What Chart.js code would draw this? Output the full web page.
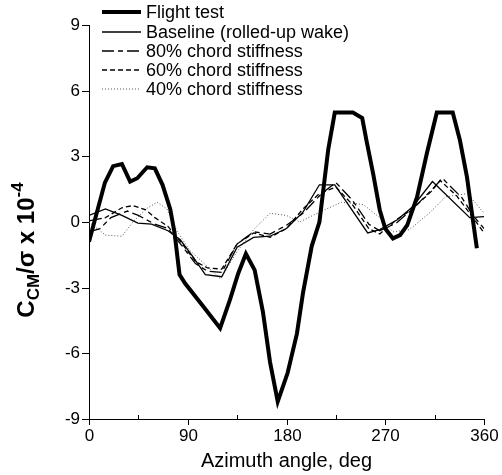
<!DOCTYPE html>
<html>
<head>
<meta charset="utf-8">
<script src="https://cdn.jsdelivr.net/npm/chart.js@4.4.0/dist/chart.umd.min.js"></script>
<style>
html,body{margin:0;padding:0;background:#fff}
canvas{display:block}
</style>
</head>
<body>
<canvas id="myChart" width="502" height="475"></canvas>
<script>
// values: azimuth (deg) / C_CM/sigma x 10^-4
const flightAng=[0,14.5,22,30,37.5,44,53,60,67,74,78,82.5,87.5,104,119.5,128.5,136,143,151,158.5,165,172,181,189.5,195,203,210,218,224,240.5,249,253,259,265,270,277,283.5,290,299,308,317,331.5,338,344.5,349,353.5];
const flightVal=[-0.9,1.8,2.55,2.65,1.85,2.0,2.5,2.45,1.7,0.6,-0.5,-2.4,-2.8,-3.85,-4.85,-3.55,-2.35,-1.45,-2.2,-4.1,-6.4,-8.2,-6.9,-5.1,-3.25,-1.1,0,3.3,5.0,5.0,4.75,3.7,2.2,0.55,-0.3,-0.75,-0.6,-0.15,1.15,3.15,5.0,5.0,3.75,2.05,0.4,-1.2];

const baseAng=[0,15,30,44.5,57,72,83,95,106,121,135,150,165,180,195,210,224,254,265,281,295,313,347,360];
const baseVal=[0.3,0.6,0.3,-0.05,-0.1,-0.4,-0.8,-1.6,-2.4,-2.5,-1.15,-0.7,-0.65,-0.3,0.45,1.7,1.7,-0.5,-0.35,0.1,0.7,1.85,0.2,0.25];

const c80Ang=[0,10,20,35,45,60,72,85,97,108,121,135,150,165,180,195,212,225,240,255,265,280,295,313,322,340,350,360];
const c80Val=[-0.45,-0.3,0.2,0.5,0.3,-0.1,-0.3,-1.1,-1.9,-2.25,-2.3,-1.0,-0.45,-0.55,-0.15,0.4,1.3,1.8,1.0,-0.1,-0.4,-0.05,0.6,1.5,2.0,1.1,0.3,-0.3];

const c60Ang=[0,15,30,40,52,60,72,85,97,108,121,135,150,165,180,195,210,225,240,255,265,280,295,312,320,335,350,360];
const c60Val=[0.05,0.2,0.65,0.75,0.55,0.2,-0.2,-1.0,-1.8,-2.1,-2.15,-1.0,-0.5,-0.7,-0.3,0.6,1.3,1.6,0.8,-0.3,-0.55,0.1,0.6,1.4,1.9,1.2,0.2,-0.5];

const c40Ang=[0,15,30,40,52,62,71,80,92,104,120,135,150,165,180,192,210,230,250,265,277,292,310,325,345,360];
const c40Val=[0.0,-0.6,-0.65,0.0,0.6,0.9,0.6,-0.4,-1.3,-1.85,-2.6,-1.35,-0.35,0.4,0.3,0.0,0.45,0.9,0.8,0.2,-0.45,-0.35,0.4,1.15,1.3,0.4];

const seriesNames=["Flight test","Baseline (rolled-up wake)","80% chord stiffness","60% chord stiffness","40% chord stiffness"];
const xTicks=[0,90,180,270,360];
const xMinor=[45,135,225,315];
const yTicks=[-9,-6,-3,0,3,6,9];

const FONT='"Liberation Sans", Arial, sans-serif';

const pts=(a,v)=>a.map((x,i)=>({x:x,y:v[i]}));

const lineDs=(label,a,v,w,dash,color)=>({
    label:label,
    data:pts(a,v),
    borderColor:color||"#000",
    borderWidth:w,
    borderDash:dash,
    pointRadius:0,
    tension:0,
    fill:false
});

const datasets=[
    lineDs(seriesNames[0],flightAng,flightVal,4,[]),
    lineDs(seriesNames[1],baseAng,baseVal,1.3,[]),
    lineDs(seriesNames[2],c80Ang,c80Val,1.3,[12,4,5,4]),
    lineDs(seriesNames[3],c60Ang,c60Val,1.3,[5,3]),
    lineDs(seriesNames[4],c40Ang,c40Val,1,[1,2],"#555")
];

// ticks, labels, axis title and legend drawn by hand
const decor={
    id:"decor",
    afterDraw(chart){
        const ctx=chart.ctx;
        const xs=chart.scales.x, ys=chart.scales.y;
        const area=chart.chartArea;
        ctx.save();
        ctx.strokeStyle="#000";
        ctx.fillStyle="#000";
        ctx.lineWidth=1;
        // y ticks
        ctx.font="17px "+FONT;
        ctx.textAlign="right";
        ctx.textBaseline="middle";
        yTicks.forEach(t=>{
            const y=Math.round(ys.getPixelForValue(t))+0.5;
            ctx.beginPath();ctx.moveTo(area.left-7,y);ctx.lineTo(area.left,y);ctx.stroke();
            ctx.fillText(String(t),area.left-9,y);
        });
        // x ticks
        ctx.textAlign="center";
        ctx.textBaseline="top";
        xTicks.forEach(t=>{
            const x=Math.round(xs.getPixelForValue(t))+0.5;
            ctx.beginPath();ctx.moveTo(x,area.bottom);ctx.lineTo(x,area.bottom+6);ctx.stroke();
            ctx.fillText(String(t),x,area.bottom+9);
        });
        xMinor.forEach(t=>{
            const x=Math.round(xs.getPixelForValue(t))+0.5;
            ctx.beginPath();ctx.moveTo(x,area.bottom);ctx.lineTo(x,area.bottom-4);ctx.stroke();
        });
        // x title
        ctx.font="20px "+FONT;
        ctx.textBaseline="alphabetic";
        ctx.fillText("Azimuth angle, deg",(area.left+area.right)/2,467);
        // y title with sub/superscript
        const parts=[
            {t:"C",s:24,dy:0},
            {t:"CM",s:17,dy:5},
            {t:"/\u03c3 x 10",s:24,dy:0},
            {t:"-4",s:17,dy:-11}
        ];
        let total=0;
        parts.forEach(p=>{ctx.font="bold "+p.s+"px "+FONT;p.w=ctx.measureText(p.t).width;total+=p.w;});
        ctx.translate(34,250);
        ctx.rotate(-Math.PI/2);
        ctx.textAlign="left";
        let u=-total/2;
        parts.forEach(p=>{ctx.font="bold "+p.s+"px "+FONT;ctx.fillText(p.t,u,p.dy);u+=p.w;});
        ctx.setTransform(1,0,0,1,0,0);
        // legend
        const rows=[12,32,51,70,89];
        ctx.font="18px "+FONT;
        ctx.textBaseline="middle";
        ctx.textAlign="left";
        chart.data.datasets.forEach((ds,i)=>{
            const y=rows[i];
            ctx.save();
            ctx.strokeStyle=ds.borderColor;
            ctx.lineWidth=ds.borderWidth;
            ctx.setLineDash(ds.borderDash||[]);
            ctx.beginPath();ctx.moveTo(102,y);ctx.lineTo(141,y);ctx.stroke();
            ctx.restore();
            ctx.fillText(ds.label,146,y+1);
        });
        ctx.restore();
    }
};

new Chart(document.getElementById("myChart").getContext("2d"),{
    type:"line",
    data:{datasets:datasets},
    options:{
        responsive:false,
        animation:false,
        devicePixelRatio:1,
        layout:{padding:{left:0,right:18,top:25,bottom:0}},
        plugins:{legend:{display:false},tooltip:{enabled:false}},
        scales:{
            x:{
                type:"linear",min:0,max:360,
                ticks:{display:false},
                grid:{display:false},
                border:{display:true,color:"#000",width:1},
                afterFit:s=>{s.height=56;}
            },
            y:{
                min:-9,max:9,
                ticks:{display:false},
                grid:{display:false},
                border:{display:true,color:"#000",width:1},
                afterFit:s=>{s.width=89;}
            }
        }
    },
    plugins:[decor]
});
</script>
</body>
</html>
